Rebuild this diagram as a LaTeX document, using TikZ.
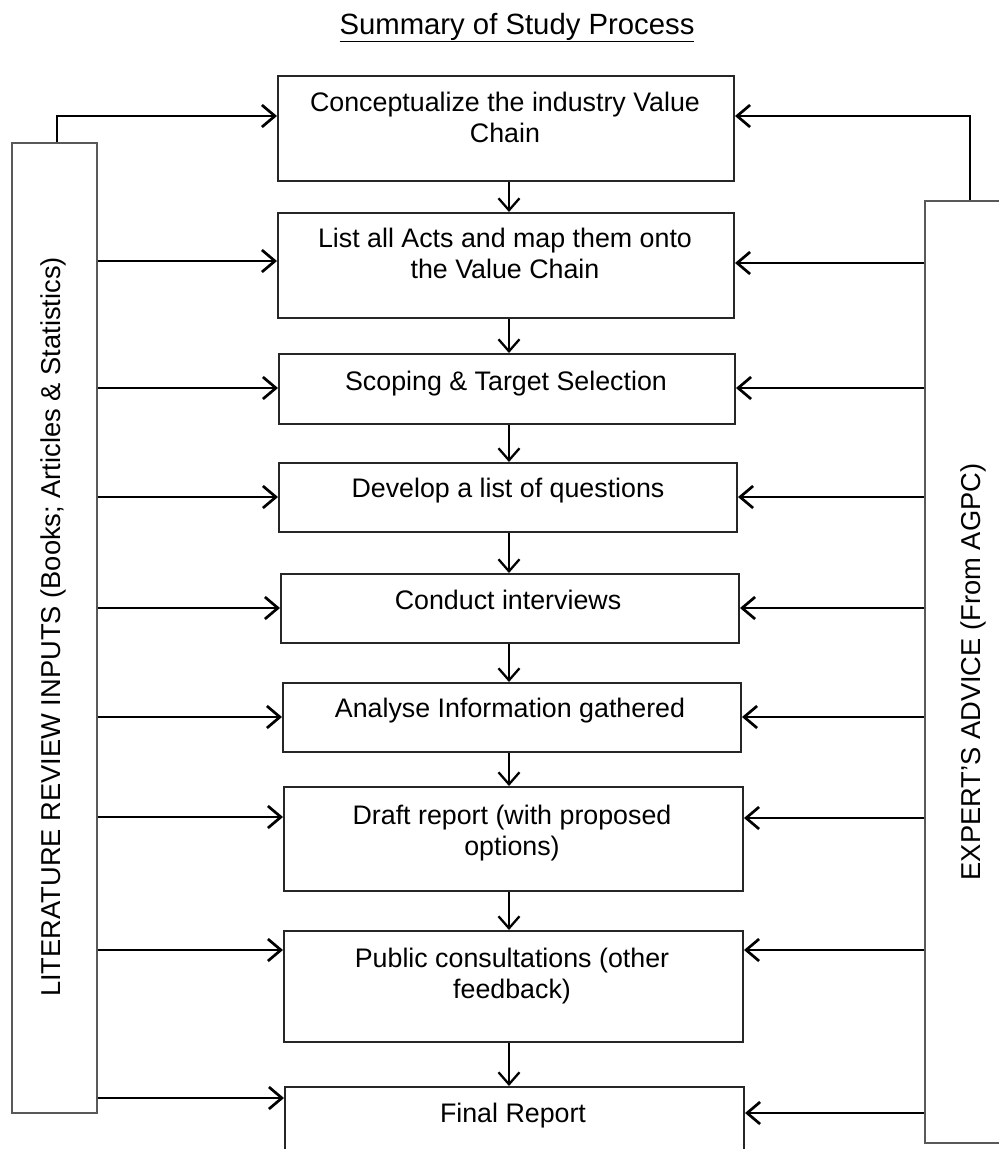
\documentclass[tikz,border=0pt]{standalone}
\usepackage{fontspec}
\setmainfont{Liberation Sans}
\usetikzlibrary{arrows.meta}
\begin{document}
\begin{tikzpicture}[x=1pt,y=-1pt,
  box/.style={draw=black!85, line width=2pt, inner sep=0pt, fill=white},
  side/.style={draw=black!65, line width=1.5pt, inner sep=0pt},
  lbl/.style={font=\fontsize{26.8}{31}\selectfont, align=center, inner sep=0pt},
  vlbl/.style={inner sep=0pt, rotate=90, font=\fontsize{27.3}{30}\selectfont},
  arr/.style={line width=2.7pt, -{Straight Barb[length=13pt,width=22pt,line width=2.7pt]}},
  darr/.style={line width=2.3pt, -{Straight Barb[length=12pt,width=21pt,line width=2.3pt]}}]
\useasboundingbox (0,0) rectangle (999,1149);
\clip (0,0) rectangle (999,1149);
\fill[white] (0,0) rectangle (999,1149);

% title
\node[inner sep=0pt, anchor=base, font=\fontsize{29.3}{33}\selectfont] (title) at (517,34) {\underline{Summary of Study Process}};

% side boxes
\node[side, anchor=north west, minimum width=85pt, minimum height=970pt] (lit) at (11,142) {};
\node[side, anchor=north west, minimum width=90pt, minimum height=942pt] (exp) at (924,200) {};
\node[vlbl, anchor=base] (litt) at (60,627) {LITERATURE REVIEW INPUTS (Books; Articles \& Statistics)};
\node[vlbl, anchor=base] (expt) at (980,672) {EXPERT'S ADVICE (From AGPC)};

% process boxes
\node[box, anchor=north west, minimum width=456pt, minimum height=105pt] (b1) at (277,75) {};
\node[box, anchor=north west, minimum width=456pt, minimum height=105pt] (b2) at (277,212) {};
\node[box, anchor=north west, minimum width=456pt, minimum height=70pt] (b3) at (278,353) {};
\node[box, anchor=north west, minimum width=458pt, minimum height=69pt] (b4) at (278,462) {};
\node[box, anchor=north west, minimum width=458pt, minimum height=69pt] (b5) at (280,573) {};
\node[box, anchor=north west, minimum width=458pt, minimum height=69pt] (b6) at (282,682) {};
\node[box, anchor=north west, minimum width=459pt, minimum height=104pt] (b7) at (283,786) {};
\node[box, anchor=north west, minimum width=459pt, minimum height=111pt] (b8) at (283,930) {};
\node[box, anchor=north west, minimum width=459pt, minimum height=90pt] (b9) at (284,1086) {};

% texts (anchor=base = baseline of the last line)
\node[lbl, anchor=base] (t1) at (505,142) {Conceptualize the industry Value\\Chain};
\node[lbl, anchor=base] (t2) at (505,278) {List all Acts and map them onto\\the Value Chain};
\node[lbl, anchor=base] (t3) at (506,390) {Scoping \& Target Selection};
\node[lbl, anchor=base] (t4) at (508,497) {Develop a list of questions};
\node[lbl, anchor=base] (t5) at (508,609) {Conduct interviews};
\node[lbl, anchor=base] (t6) at (510,717) {Analyse Information gathered};
\node[lbl, anchor=base] (t7) at (512,855) {Draft report (with proposed\\options)};
\node[lbl, anchor=base] (t8) at (512,998) {Public consultations (other\\feedback)};
\node[lbl, anchor=base] (t9) at (513,1122) {Final Report};

% down arrows
\coordinate (xc) at (509,0);
\foreach \a/\b in {b1/b2,b2/b3,b3/b4,b4/b5,b5/b6,b6/b7,b7/b8,b8/b9}
  \draw[darr] (\a.south -| xc) -- (\b.north -| xc);

% top bent arrows
\coordinate (lk) at (57,116);
\coordinate (rk) at (970,116);
\draw[arr] (lit.north -| lk) -- (lk) -- (b1.west |- lk);
\draw[arr] (exp.north -| rk) -- (rk) -- (b1.east |- rk);

% left arrows
\foreach \b/\y in {b2/261,b3/388,b4/497,b5/608,b6/717,b7/817,b8/950,b9/1098}
  \draw[arr] (lit.east |- 0,\y) -- (\b.west |- 0,\y);
% right arrows
\foreach \b/\y in {b2/263,b3/388,b4/497,b5/608,b6/717,b7/818,b8/950,b9/1113}
  \draw[arr] (exp.west |- 0,\y) -- (\b.east |- 0,\y);
\end{tikzpicture}
\end{document}
